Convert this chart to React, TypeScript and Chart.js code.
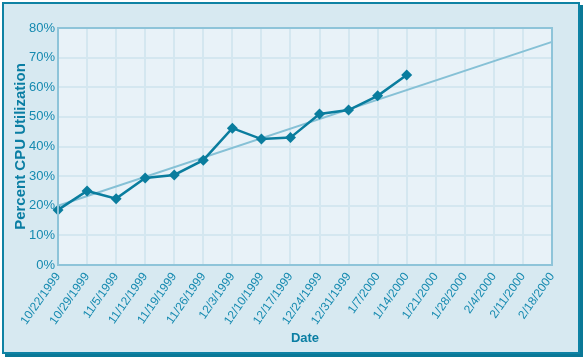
import React, { useEffect, useRef } from "react";
import { Chart, registerables } from "chart.js";

Chart.register(...registerables);

const categories = [
  "10/22/1999", "10/29/1999", "11/5/1999", "11/12/1999", "11/19/1999", "11/26/1999",
  "12/3/1999", "12/10/1999", "12/17/1999", "12/24/1999", "12/31/1999", "1/7/2000",
  "1/14/2000", "1/21/2000", "1/28/2000", "2/4/2000", "2/11/2000", "2/18/2000",
];

const cpuValues: (number | null)[] = [
  18.6, 25.0, 22.4, 29.4, 30.4, 35.4, 46.2, 42.5, 43.0, 51.0, 52.3, 57.1, 64.1,
  null, null, null, null, null,
];

const trendValues: (number | null)[] = [
  20.0, null, null, null, null, null, null, null, null, null, null, null, null,
  null, null, null, null, 75.3,
];

const yTickStep = 5;
const yMax = 80;

const plotBgPlugin = {
  id: "plotBg",
  beforeDraw(chart: any) {
    const { ctx, chartArea } = chart;
    if (!chartArea) return;
    ctx.save();
    ctx.fillStyle = "#e8f2f8";
    ctx.fillRect(chartArea.left, chartArea.top, chartArea.right - chartArea.left, chartArea.bottom - chartArea.top);
    ctx.restore();
  },
  afterDraw(chart: any) {
    const { ctx, chartArea } = chart;
    if (!chartArea) return;
    ctx.save();
    ctx.strokeStyle = "#8ec4d9";
    ctx.lineWidth = 2;
    ctx.strokeRect(chartArea.left, chartArea.top, chartArea.right - chartArea.left, chartArea.bottom - chartArea.top);
    ctx.restore();
  },
};

export default function App() {
  const canvasRef = useRef<HTMLCanvasElement | null>(null);

  useEffect(() => {
    if (!canvasRef.current) return;
    const chart = new Chart(canvasRef.current, {
      type: "line",
      data: {
        labels: categories,
        datasets: [
          {
            label: "Trend",
            data: trendValues,
            borderColor: "#86c1d6",
            borderWidth: 2,
            pointRadius: 0,
            spanGaps: true,
            order: 2,
          },
          {
            label: "Percent CPU Utilization",
            data: cpuValues,
            borderColor: "#0a7d9e",
            backgroundColor: "#0a7d9e",
            borderWidth: 2.5,
            pointStyle: "rectRot",
            pointRadius: 5.5,
            pointBorderWidth: 0,
            spanGaps: false,
            order: 1,
          },
        ],
      },
      plugins: [plotBgPlugin],
      options: {
        animation: false,
        responsive: false,
        maintainAspectRatio: false,
        layout: { padding: { top: 28, right: 33, left: 0, bottom: 0 } },
        plugins: {
          legend: { display: false },
          tooltip: { enabled: false },
        },
        scales: {
          x: {
            type: "category",
            offset: false,
            afterFit: (scale: any) => {
              scale.height = 95;
            },
            grid: { color: "#d4e7f0", lineWidth: 2, drawTicks: false },
            border: { display: false },
            ticks: {
              autoSkip: false,
              minRotation: 55,
              maxRotation: 55,
              padding: 5,
              color: "#168ab0",
              font: { family: "Liberation Sans", size: 12 },
            },
            title: {
              display: true,
              text: "Date",
              color: "#0a7ea3",
              font: { family: "Liberation Sans", size: 13, weight: "bold" },
              padding: { top: 0, bottom: 14 },
            },
          },
          y: {
            min: 0,
            max: yMax,
            afterFit: (scale: any) => {
              scale.width = 58;
            },
            grid: { color: "#d4e7f0", lineWidth: 2, drawTicks: false },
            border: { display: false },
            ticks: {
              stepSize: yTickStep,
              padding: 3,
              color: "#168ab0",
              font: { family: "Liberation Sans", size: 13 },
              callback: (v: any) => (Number(v) % 10 === 0 ? `${v}%` : ""),
            },
            title: {
              display: true,
              text: "Percent CPU Utilization",
              color: "#0a7ea3",
              font: { family: "Liberation Sans", size: 15, weight: "bold" },
              padding: { top: 12, bottom: 0 },
            },
          },
        },
      },
    } as any);
    return () => chart.destroy();
  }, []);

  return (
    <div style={{ position: "fixed", left: 0, top: 0, width: 585, height: 360, background: "#ffffff" }}>
      <div
        style={{
          position: "absolute",
          left: 2,
          top: 2,
          width: 574,
          height: 348,
          background: "#d7e9f1",
          border: "2px solid #0e82a4",
          boxShadow: "3px 3px 0 #0a7896",
        }}
      />
      <canvas ref={canvasRef} width={585} height={360} style={{ position: "absolute", left: 0, top: 0 }} />
    </div>
  );
}
